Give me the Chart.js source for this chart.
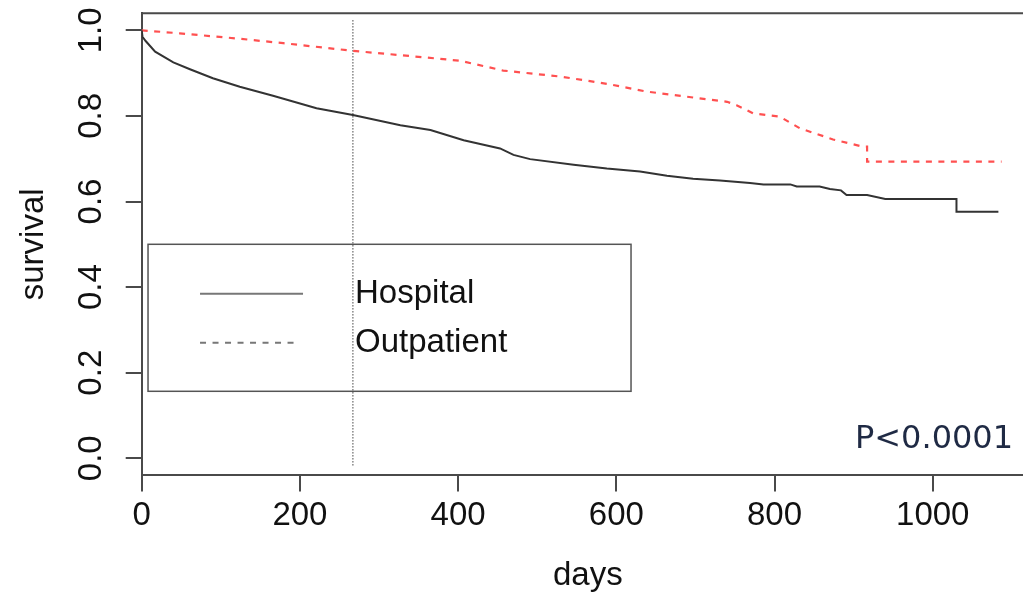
<!DOCTYPE html>
<html>
<head>
<meta charset="utf-8">
<script src="https://cdn.jsdelivr.net/npm/chart.js@4.4.1/dist/chart.umd.min.js"></script>
<style>
  html, body { margin: 0; padding: 0; background: #fff; overflow: hidden; }
  #wrap { width: 1023px; height: 592px; overflow: hidden; }
  canvas { display: block; }
</style>
</head>
<body>
<div id="wrap"><canvas id="kmChart" width="1040" height="592"></canvas></div>
<script>
// survival curves (days, survival)
const hospitalDays = [0, 1, 5, 17, 40, 61, 90, 124, 166, 221, 267, 327, 365, 407, 453, 470, 491, 546, 588, 630, 664, 697, 731, 769, 786, 820, 828, 857, 870, 884, 891, 917, 940, 1030, 1030, 1083];
const hospitalSurv = [1.0, 0.985, 0.975, 0.950, 0.925, 0.909, 0.888, 0.868, 0.847, 0.818, 0.802, 0.778, 0.767, 0.743, 0.724, 0.709, 0.699, 0.686, 0.677, 0.670, 0.660, 0.653, 0.649, 0.643, 0.640, 0.640, 0.635, 0.635, 0.629, 0.626, 0.615, 0.615, 0.606, 0.606, 0.576, 0.576];

const outpatientDays = [0, 48, 120, 179, 267, 327, 402, 457, 529, 588, 638, 697, 740, 752, 773, 807, 832, 874, 912, 917, 917, 1087];
const outpatientSurv = [1.0, 0.993, 0.981, 0.970, 0.952, 0.942, 0.929, 0.906, 0.892, 0.875, 0.857, 0.843, 0.833, 0.825, 0.806, 0.798, 0.771, 0.745, 0.728, 0.728, 0.693, 0.693];

const seriesNames = ['Hospital', 'Outpatient'];

const xTicks = [0, 200, 400, 600, 800, 1000];
const yTicks = [0, 0.2, 0.4, 0.6, 0.8, 1.0];
const yTickLabels = ['0.0', '0.2', '0.4', '0.6', '0.8', '1.0'];

// vertical reference line (days) and its extent
const cutoffDay = 267;
const cutoffSpan = [1.024, -0.018];
const pValueText = 'P<0.0001';

const toPoints = (xs, ys) => xs.map((x, i) => ({ x: x, y: ys[i] }));

const FONT = '"Liberation Sans", Arial, sans-serif';
const AXIS_COLOR = '#4a4a4a';

// box round the plot (Chart.js only draws the left and bottom borders)
const framePlugin = {
  id: 'frame',
  afterDraw(chart) {
    const { ctx, chartArea: a } = chart;
    ctx.save();
    ctx.strokeStyle = AXIS_COLOR;
    ctx.lineWidth = 2;
    ctx.beginPath();
    ctx.moveTo(a.left, a.top);
    ctx.lineTo(a.right, a.top);
    ctx.lineTo(a.right, a.bottom);
    ctx.stroke();
    ctx.restore();
  }
};

// R-style legend box placed at a data position, plus the p value
const legendBoxPlugin = {
  id: 'legendBox',
  afterDraw(chart, args, opts) {
    const { ctx } = chart;
    const x0 = chart.scales.x.getPixelForValue(opts.atX);
    const y0 = chart.scales.y.getPixelForValue(opts.atY);
    ctx.save();
    ctx.strokeStyle = '#555';
    ctx.lineWidth = 1.5;
    ctx.strokeRect(x0, y0, 483, 147);

    const rows = [49.5, 98.5];
    const lineEnds = [155, 149];
    chart.data.datasets.slice(0, 2).forEach((ds, i) => {
      const y = y0 + rows[i];
      ctx.strokeStyle = '#777';
      ctx.lineWidth = 2;
      ctx.setLineDash(ds.borderDash || []);
      ctx.beginPath();
      ctx.moveTo(x0 + 52, y);
      ctx.lineTo(x0 + lineEnds[i], y);
      ctx.stroke();
      ctx.setLineDash([]);
      ctx.fillStyle = '#111';
      ctx.font = '33px ' + FONT;
      ctx.textBaseline = 'middle';
      ctx.textAlign = 'left';
      ctx.fillText(ds.label, x0 + 207, y);
    });

    ctx.fillStyle = '#1f2a44';
    ctx.font = '32px "DejaVu Sans", sans-serif';
    ctx.textBaseline = 'alphabetic';
    ctx.textAlign = 'left';
    ctx.fillText(pValueText, 855, 448);
    ctx.restore();
  }
};

const ctx = document.getElementById('kmChart').getContext('2d');

const kmChart = new Chart(ctx, {
  type: 'line',
  data: {
    datasets: [
      {
        label: seriesNames[0],
        data: toPoints(hospitalDays, hospitalSurv),
        borderColor: '#333',
        borderWidth: 2,
        pointRadius: 0,
        tension: 0
      },
      {
        label: seriesNames[1],
        data: toPoints(outpatientDays, outpatientSurv),
        borderColor: '#ff5050',
        borderWidth: 2.2,
        borderDash: [6, 6.5],
        pointRadius: 0,
        tension: 0
      },
      {
        label: 'cutoff',
        data: toPoints([cutoffDay, cutoffDay], cutoffSpan),
        borderColor: '#444',
        borderWidth: 1,
        borderDash: [1.5, 1.5],
        pointRadius: 0
      }
    ]
  },
  options: {
    responsive: false,
    animation: false,
    events: [],
    layout: { padding: { top: 13.2, right: 6, left: 0, bottom: 0 } },
    scales: {
      x: {
        type: 'linear',
        min: 0,
        max: 1128,
        afterBuildTicks: (scale) => { scale.ticks = xTicks.map(v => ({ value: v })); },
        afterFit: (scale) => {
          scale.height = 116.6;
          scale.paddingLeft = 0;
          scale.paddingRight = 0;
        },
        grid: { drawOnChartArea: false, tickLength: 16, color: AXIS_COLOR, lineWidth: 2 },
        border: { display: true, color: AXIS_COLOR, width: 2 },
        ticks: {
          color: '#111',
          padding: 5,
          maxRotation: 0,
          autoSkip: false,
          font: { family: FONT, size: 33 },
          callback: (v) => String(v)
        },
        title: {
          display: true,
          text: 'days',
          color: '#111',
          font: { family: FONT, size: 33, lineHeight: 1 },
          padding: { top: 0, bottom: 0 }
        }
      },
      y: {
        type: 'linear',
        min: -0.04,
        max: 1.04,
        afterBuildTicks: (scale) => { scale.ticks = yTicks.map(v => ({ value: v })); },
        afterFit: (scale) => {
          scale.width = 141.7;
          scale.paddingTop = 0;
          scale.paddingBottom = 0;
        },
        grid: { drawOnChartArea: false, tickLength: 16, color: AXIS_COLOR, lineWidth: 2 },
        border: { display: true, color: AXIS_COLOR, width: 2 },
        ticks: {
          color: '#111',
          padding: 11,
          minRotation: 90,
          maxRotation: 90,
          crossAlign: 'center',
          autoSkip: false,
          font: { family: FONT, size: 33 },
          callback: (v) => yTickLabels[yTicks.findIndex(t => Math.abs(t - v) < 1e-9)]
        },
        title: {
          display: true,
          text: 'survival',
          color: '#111',
          font: { family: FONT, size: 33, lineHeight: 1 },
          padding: { top: 17, bottom: 0 }
        }
      }
    },
    plugins: {
      legend: { display: false },
      tooltip: { enabled: false },
      legendBox: { atX: 8, atY: 0.5 }
    }
  },
  plugins: [framePlugin, legendBoxPlugin]
});
</script>
</body>
</html>
